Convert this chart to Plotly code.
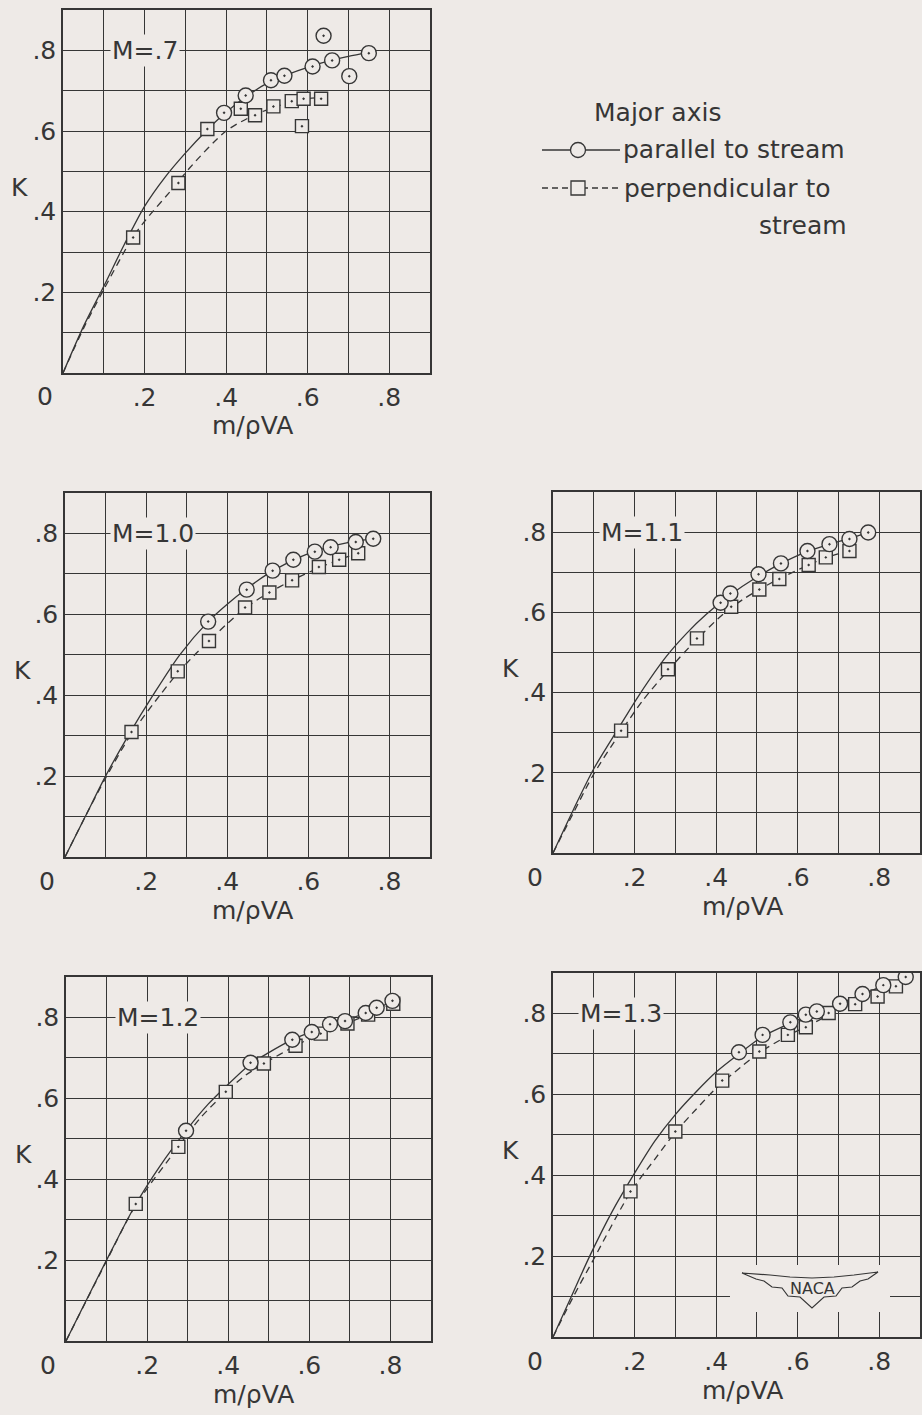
import plotly.graph_objects as go

W, H = 922, 1415
BG = "#eeeae7"
INK = "#363636"
FONT = "DejaVu Sans"

# ---- M = .7 ----
m07_par_x = [0.395, 0.448, 0.510, 0.543, 0.612, 0.639, 0.660, 0.702, 0.750]
m07_par_y = [0.645, 0.688, 0.726, 0.737, 0.760, 0.836, 0.775, 0.736, 0.793]
m07_perp_x = [0.172, 0.283, 0.354, 0.436, 0.471, 0.516, 0.561, 0.586, 0.590, 0.633]
m07_perp_y = [0.336, 0.471, 0.605, 0.655, 0.639, 0.661, 0.674, 0.612, 0.680, 0.680]
m07_fair_par_x = [0, 0.05, 0.10, 0.15, 0.20, 0.25, 0.30, 0.354, 0.395, 0.45, 0.50, 0.55, 0.60, 0.65, 0.70, 0.75]
m07_fair_par_y = [0, 0.115, 0.215, 0.318, 0.413, 0.485, 0.545, 0.603, 0.642, 0.686, 0.718, 0.740, 0.758, 0.773, 0.785, 0.795]
m07_fair_perp_x = [0, 0.05, 0.10, 0.17, 0.20, 0.279, 0.311, 0.40, 0.47, 0.516, 0.561, 0.60, 0.635]
m07_fair_perp_y = [0, 0.11, 0.207, 0.335, 0.376, 0.469, 0.509, 0.600, 0.640, 0.658, 0.672, 0.680, 0.683]

# ---- M = 1.0 ----
m10_par_x = [0.353, 0.448, 0.512, 0.563, 0.616, 0.655, 0.717, 0.760]
m10_par_y = [0.582, 0.661, 0.708, 0.735, 0.755, 0.766, 0.779, 0.787]
m10_perp_x = [0.164, 0.278, 0.355, 0.444, 0.504, 0.560, 0.626, 0.676, 0.723]
m10_perp_y = [0.309, 0.459, 0.534, 0.617, 0.654, 0.684, 0.717, 0.735, 0.751]
m10_fair_par_x = [0, 0.05, 0.10, 0.156, 0.217, 0.283, 0.353, 0.40, 0.45, 0.50, 0.55, 0.60, 0.65, 0.70, 0.76]
m10_fair_par_y = [0, 0.10, 0.20, 0.30, 0.40, 0.50, 0.582, 0.625, 0.665, 0.700, 0.728, 0.750, 0.766, 0.778, 0.787]
m10_fair_perp_x = [0, 0.05, 0.10, 0.164, 0.234, 0.278, 0.32, 0.355, 0.40, 0.444, 0.50, 0.56, 0.626, 0.676, 0.723]
m10_fair_perp_y = [0, 0.10, 0.195, 0.305, 0.40, 0.455, 0.50, 0.534, 0.577, 0.615, 0.652, 0.684, 0.715, 0.735, 0.752]

# ---- M = 1.1 ----
m11_par_x = [0.411, 0.435, 0.504, 0.559, 0.624, 0.678, 0.727, 0.773]
m11_par_y = [0.624, 0.647, 0.695, 0.722, 0.753, 0.770, 0.783, 0.799]
m11_perp_x = [0.167, 0.282, 0.353, 0.437, 0.506, 0.555, 0.627, 0.669, 0.727]
m11_perp_y = [0.305, 0.458, 0.535, 0.614, 0.657, 0.683, 0.718, 0.737, 0.753]
m11_fair_par_x = [0, 0.05, 0.10, 0.16, 0.212, 0.278, 0.33, 0.376, 0.43, 0.50, 0.56, 0.62, 0.68, 0.73, 0.775]
m11_fair_par_y = [0, 0.108, 0.21, 0.31, 0.395, 0.49, 0.55, 0.595, 0.640, 0.688, 0.722, 0.750, 0.770, 0.785, 0.800]
m11_fair_perp_x = [0, 0.05, 0.10, 0.167, 0.22, 0.282, 0.353, 0.42, 0.47, 0.506, 0.555, 0.627, 0.669, 0.73]
m11_fair_perp_y = [0, 0.10, 0.197, 0.303, 0.38, 0.455, 0.533, 0.598, 0.635, 0.657, 0.684, 0.718, 0.736, 0.755]

# ---- M = 1.2 ----
m12_par_x = [0.296, 0.455, 0.558, 0.606, 0.651, 0.688, 0.739, 0.766, 0.805]
m12_par_y = [0.520, 0.688, 0.745, 0.764, 0.783, 0.791, 0.811, 0.824, 0.841]
m12_perp_x = [0.172, 0.277, 0.394, 0.488, 0.566, 0.628, 0.694, 0.745, 0.807]
m12_perp_y = [0.339, 0.480, 0.616, 0.686, 0.730, 0.760, 0.785, 0.807, 0.834]
m12_fair_par_x = [0, 0.10, 0.172, 0.23, 0.296, 0.35, 0.395, 0.455, 0.50, 0.558, 0.606, 0.651, 0.70, 0.75, 0.805]
m12_fair_par_y = [0, 0.20, 0.338, 0.430, 0.520, 0.585, 0.630, 0.685, 0.713, 0.745, 0.765, 0.781, 0.797, 0.815, 0.840]
m12_fair_perp_x = [0, 0.10, 0.172, 0.277, 0.33, 0.394, 0.44, 0.488, 0.566, 0.628, 0.694, 0.745, 0.807]
m12_fair_perp_y = [0, 0.198, 0.336, 0.480, 0.550, 0.615, 0.655, 0.686, 0.730, 0.760, 0.786, 0.807, 0.836]

# ---- M = 1.3 ----
m13_par_x = [0.456, 0.514, 0.582, 0.620, 0.647, 0.704, 0.759, 0.810, 0.865]
m13_par_y = [0.704, 0.747, 0.778, 0.797, 0.805, 0.824, 0.848, 0.870, 0.890]
m13_perp_x = [0.190, 0.300, 0.415, 0.506, 0.576, 0.620, 0.676, 0.741, 0.796, 0.841]
m13_perp_y = [0.360, 0.508, 0.634, 0.706, 0.747, 0.766, 0.801, 0.823, 0.842, 0.867]
m13_fair_par_x = [0, 0.045, 0.09, 0.145, 0.20, 0.25, 0.30, 0.35, 0.40, 0.456, 0.514, 0.582, 0.647, 0.704, 0.759, 0.81, 0.865]
m13_fair_par_y = [0, 0.10, 0.20, 0.31, 0.405, 0.485, 0.55, 0.605, 0.655, 0.700, 0.743, 0.776, 0.803, 0.825, 0.848, 0.868, 0.890]
m13_fair_perp_x = [0, 0.05, 0.10, 0.190, 0.25, 0.30, 0.35, 0.40, 0.46, 0.506, 0.576, 0.62, 0.676, 0.741, 0.796, 0.841]
m13_fair_perp_y = [0, 0.10, 0.193, 0.358, 0.44, 0.506, 0.562, 0.615, 0.667, 0.703, 0.745, 0.767, 0.795, 0.822, 0.845, 0.867]

grid_vals = [0.1, 0.2, 0.3, 0.4, 0.5, 0.6, 0.7, 0.8]
grid_text = ["", ".2", "", ".4", "", ".6", "", ".8"]

# (label, label x, data..., panel box in px: left, right, top, bottom)
panels = [
    ("M=.7", 0.201, m07_par_x, m07_par_y, m07_perp_x, m07_perp_y,
     m07_fair_par_x, m07_fair_par_y, m07_fair_perp_x, m07_fair_perp_y, (63, 430, 10, 373)),
    ("M=1.0", 0.217, m10_par_x, m10_par_y, m10_perp_x, m10_perp_y,
     m10_fair_par_x, m10_fair_par_y, m10_fair_perp_x, m10_fair_perp_y, (65, 430, 493, 857)),
    ("M=1.1", 0.218, m11_par_x, m11_par_y, m11_perp_x, m11_perp_y,
     m11_fair_par_x, m11_fair_par_y, m11_fair_perp_x, m11_fair_perp_y, (553, 920, 492, 853)),
    ("M=1.2", 0.227, m12_par_x, m12_par_y, m12_perp_x, m12_perp_y,
     m12_fair_par_x, m12_fair_par_y, m12_fair_perp_x, m12_fair_perp_y, (66, 431, 977, 1341)),
    ("M=1.3", 0.167, m13_par_x, m13_par_y, m13_perp_x, m13_perp_y,
     m13_fair_par_x, m13_fair_par_y, m13_fair_perp_x, m13_fair_perp_y, (553, 920, 973, 1337)),
]


def px_to_paper(px, py):
    return px / W, 1 - py / H


fig = go.Figure()
layout = {}
annotations = []
txt = dict(family=FONT, size=25, color=INK)
mid = dict(xanchor="center", yanchor="middle", showarrow=False)

for i, (label, lx, px_, py_, qx, qy, fpx, fpy, fqx, fqy, box) in enumerate(panels, start=1):
    n = "" if i == 1 else str(i)
    xa, ya = f"x{n}", f"y{n}"
    left, right, top, bottom = box
    x0, y1 = px_to_paper(left, top)
    x1, y0 = px_to_paper(right, bottom)
    common = dict(
        range=[0, 0.9], tickvals=grid_vals, ticktext=grid_text,
        showgrid=True, gridcolor=INK, gridwidth=1.2, zeroline=False,
        showline=True, mirror=True, linecolor=INK, linewidth=1.5,
        ticks="", tickfont=txt, fixedrange=True,
    )
    layout[f"xaxis{n}"] = dict(common, domain=[x0, x1], anchor=ya, ticklabelstandoff=1)
    layout[f"yaxis{n}"] = dict(common, domain=[y0, y1], anchor=xa, ticklabelstandoff=0)

    # faired curves
    fig.add_trace(go.Scatter(x=fpx, y=fpy, xaxis=xa, yaxis=ya, mode="lines",
                             line=dict(color=INK, width=1.3, shape="spline", smoothing=0.8),
                             showlegend=False, hoverinfo="skip"))
    fig.add_trace(go.Scatter(x=fqx, y=fqy, xaxis=xa, yaxis=ya, mode="lines",
                             line=dict(color=INK, width=1.3, dash="7px,5px",
                                       shape="spline", smoothing=0.8),
                             showlegend=False, hoverinfo="skip"))
    # test points
    fig.add_trace(go.Scatter(x=qx, y=qy, xaxis=xa, yaxis=ya, mode="markers",
                             marker=dict(symbol="square-dot", size=13, color=BG,
                                         line=dict(color=INK, width=1.4)),
                             name="perpendicular to stream", showlegend=False))
    fig.add_trace(go.Scatter(x=px_, y=py_, xaxis=xa, yaxis=ya, mode="markers",
                             marker=dict(symbol="circle-dot", size=15, color=BG,
                                         line=dict(color=INK, width=1.4)),
                             name="parallel to stream", showlegend=False))

    annotations += [
        dict(mid, text=label, x=lx, y=0.8, xref=xa, yref=ya,
             font=txt, bgcolor=BG, borderpad=1),
        dict(mid, text="K", x=0, y=0.46, xref=f"{xa} domain", yref=ya, xshift=-43,
             font=txt),
        dict(mid, text="0", x=0, y=0, xref=f"{xa} domain", yref=f"{ya} domain",
             xshift=-18, yshift=-24, font=txt),
        dict(mid, text="m/ρVA", x=0.515, y=0, xref=f"{xa} domain", yref=f"{ya} domain",
             yshift=-53, font=txt),
    ]

# legend, drawn as in the original figure
leg_font = dict(family=FONT, size=25, color=INK)
for text, lx, ly in [("Major axis", 592, 113), ("parallel to stream", 621, 150),
                     ("perpendicular to", 622, 188), ("stream", 757, 226)]:
    x, y = px_to_paper(lx, ly)
    annotations.append(dict(text=text, x=x, y=y, xref="paper", yref="paper",
                            xanchor="left", yanchor="middle", showarrow=False,
                            font=leg_font))

shapes = []
x0, y0 = px_to_paper(542, 150)
x1, _ = px_to_paper(620, 150)
shapes.append(dict(type="line", xref="paper", yref="paper", x0=x0, x1=x1, y0=y0, y1=y0,
                   line=dict(color=INK, width=1.3)))
cx0, cy0 = px_to_paper(570.5, 157.5)
cx1, cy1 = px_to_paper(585.5, 142.5)
shapes.append(dict(type="circle", xref="paper", yref="paper", x0=cx0, x1=cx1, y0=cy0, y1=cy1,
                   fillcolor=BG, line=dict(color=INK, width=1.3)))
x0, y0 = px_to_paper(542, 188)
x1, _ = px_to_paper(620, 188)
shapes.append(dict(type="line", xref="paper", yref="paper", x0=x0, x1=x1, y0=y0, y1=y0,
                   line=dict(color=INK, width=1.3, dash="6px,4px")))
sx0, sy0 = px_to_paper(571, 195)
sx1, sy1 = px_to_paper(585, 181)
shapes.append(dict(type="rect", xref="paper", yref="paper", x0=sx0, x1=sx1, y0=sy0, y1=sy1,
                   fillcolor=BG, line=dict(color=INK, width=1.3)))

# NACA wings emblem in the last panel
bx0, by0 = px_to_paper(730, 1312)
bx1, by1 = px_to_paper(890, 1265)
shapes.append(dict(type="rect", xref="paper", yref="paper", x0=bx0, x1=bx1, y0=by0, y1=by1,
                   fillcolor=BG, line=dict(width=0), layer="above"))
wing = [(742, 1273), (770, 1275), (790, 1277), (812, 1278), (834, 1277), (854, 1275),
        (878, 1272), (868, 1279), (860, 1281), (852, 1287), (842, 1288), (836, 1296),
        (824, 1297), (812, 1308), (800, 1297), (788, 1296), (782, 1288), (772, 1287),
        (764, 1281), (756, 1279)]
path = ""
for j, (wx, wy) in enumerate(wing):
    x, y = px_to_paper(wx, wy)
    path += ("M" if j == 0 else "L") + f"{x:.5f},{y:.5f} "
path += "Z"
shapes.append(dict(type="path", xref="paper", yref="paper", path=path,
                   fillcolor=BG, line=dict(color=INK, width=1.2), layer="above"))
nx, ny = px_to_paper(812, 1288)
annotations.append(dict(mid, text="NACA", x=nx, y=ny, xref="paper", yref="paper",
                        font=dict(family=FONT, size=16, color=INK)))

fig.update_layout(
    width=W, height=H,
    margin=dict(l=0, r=0, t=0, b=0),
    paper_bgcolor=BG, plot_bgcolor=BG,
    showlegend=False,
    annotations=annotations,
    shapes=shapes,
    **layout,
)

# drop the page's default body margin so the figure fills the window exactly
fig.write_html(
    "out.html",
    config={"displayModeBar": False},
    post_script="document.body.style.margin='0';document.body.style.overflow='hidden';"
                f"document.body.style.background='{BG}';",
)
